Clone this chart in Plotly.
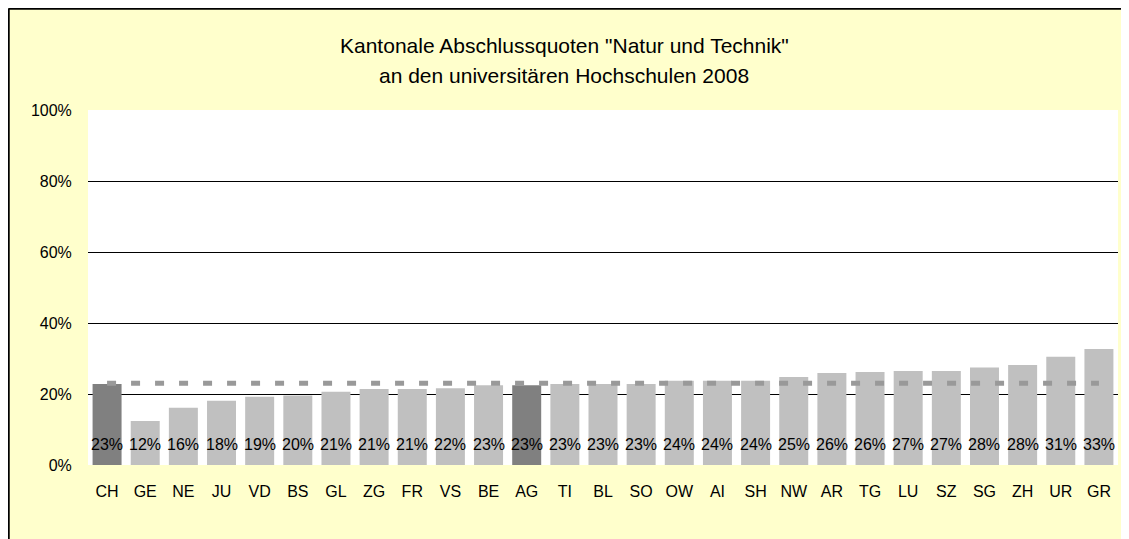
import plotly.graph_objects as go

cantons = ["CH", "GE", "NE", "JU", "VD", "BS", "GL", "ZG", "FR", "VS", "BE", "AG", "TI",
           "BL", "SO", "OW", "AI", "SH", "NW", "AR", "TG", "LU", "SZ", "SG", "ZH", "UR", "GR"]
quota = [0.228, 0.124, 0.161, 0.181, 0.192, 0.196, 0.206, 0.214, 0.214, 0.216, 0.225, 0.225, 0.228,
         0.228, 0.228, 0.237, 0.237, 0.237, 0.248, 0.259, 0.262, 0.265, 0.265, 0.275, 0.282, 0.305, 0.327]
value_labels = ["23%", "12%", "16%", "18%", "19%", "20%", "21%", "21%", "21%", "22%", "23%", "23%", "23%",
                "23%", "23%", "24%", "24%", "24%", "25%", "26%", "26%", "27%", "27%", "28%", "28%", "31%", "33%"]
highlight = ["CH", "AG"]
ch_average = 0.23
y_ticks = [0, 0.2, 0.4, 0.6, 0.8, 1.0]
y_tick_labels = ["0%", "20%", "40%", "60%", "80%", "100%"]
title_lines = ["Kantonale Abschlussquoten \"Natur und Technik\"",
               "an den universitären Hochschulen 2008"]

FONT = "Liberation Sans, Arial, sans-serif"

bar_colors = ["#808080" if c in highlight else "#C0C0C0" for c in cantons]

fig = go.Figure()
fig.add_trace(go.Bar(x=cantons, y=quota, marker=dict(color=bar_colors, line=dict(width=0)),
                     hoverinfo="x+y", showlegend=False))
fig.add_trace(go.Scatter(x=cantons, y=[ch_average] * len(cantons), mode="lines",
                         line=dict(color="#999999", width=5, dash="9px,15px"),
                         showlegend=False, hoverinfo="skip"))

for c, lab in zip(cantons, value_labels):
    fig.add_annotation(x=c, y=0, text=lab, showarrow=False, yanchor="middle", yshift=20.5,
                       font=dict(family=FONT, size=16, color="#000000"))

# two-line chart title
for ty, line in zip([1.183, 1.096], title_lines):
    fig.add_annotation(xref="paper", yref="paper", x=0.4626, y=ty, text=line, showarrow=False,
                       xanchor="center", yanchor="middle",
                       font=dict(family=FONT, size=21, color="#000000"))

# outer chart border (left and top)
fig.add_shape(type="line", xref="paper", yref="paper", x0=-0.0772, x1=-0.0772, y0=-0.3, y1=1.2859,
              line=dict(color="#000000", width=2.5))
fig.add_shape(type="line", xref="paper", yref="paper", x0=-0.0772, x1=1.05, y0=1.2859, y1=1.2859,
              line=dict(color="#000000", width=2.5))

fig.update_layout(
    width=1121, height=531,
    margin=dict(l=80, r=11, t=102, b=74),
    paper_bgcolor="#FFFFCC",
    plot_bgcolor="#FFFFFF",
    bargap=0.24,
    font=dict(family=FONT, color="#000000"),
    xaxis=dict(showgrid=False, showline=False, zeroline=False, ticks="outside", ticklen=12,
               tickcolor="rgba(0,0,0,0)", tickfont=dict(family=FONT, size=16, color="#000000")),
    yaxis=dict(range=[0, 1.0], tickvals=y_ticks, ticktext=y_tick_labels, showgrid=True,
               gridcolor="#000000", gridwidth=1, zeroline=False, showline=False,
               ticks="outside", ticklen=12, tickcolor="rgba(0,0,0,0)",
               tickfont=dict(family=FONT, size=16, color="#000000")),
)

fig.write_html("out.html")
